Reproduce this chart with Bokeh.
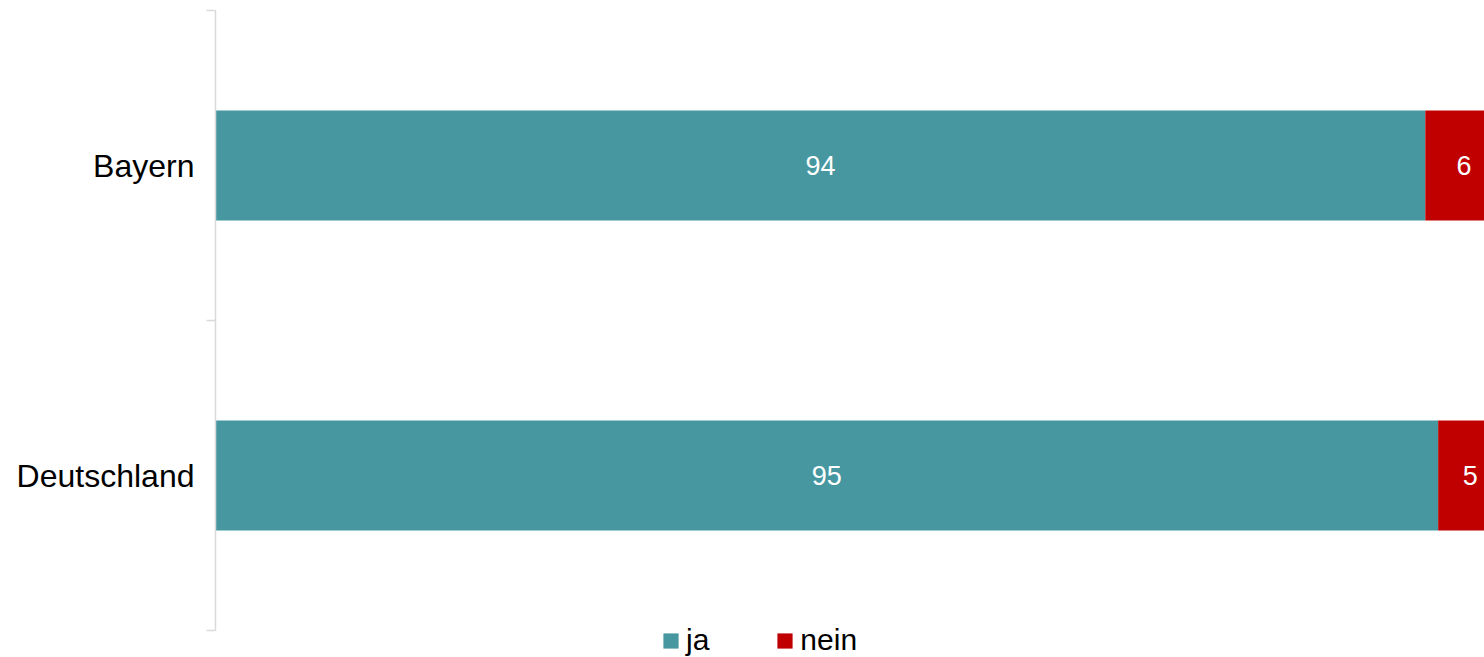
from bokeh.plotting import figure
from bokeh.models import ColumnDataSource, Range1d, FixedTicker, Legend, LegendItem
from bokeh.core.properties import value
from bokeh.embed import file_html
from bokeh.resources import INLINE

categories = ["Bayern", "Deutschland"]
ja = [94, 95]
nein = [6, 5]
series = ["ja", "nein"]
colors = ["#4697a0", "#c00000"]

n = len(categories)
ypos = [n - i - 0.5 for i in range(n)]

src = ColumnDataSource(dict(y=ypos, ja=ja, nein=nein,
                            ja_mid=[v / 2 for v in ja],
                            nein_mid=[a + b / 2 for a, b in zip(ja, nein)],
                            ja_lbl=[str(v) for v in ja],
                            nein_lbl=[str(v) for v in nein]))

FONT = "Liberation Sans"

p = figure(width=1484, height=657, output_backend="svg", toolbar_location=None,
           x_range=Range1d(0, 98.6), y_range=Range1d(-27 / 310, n),
           min_border_left=215, min_border_right=0, min_border_top=10, min_border_bottom=0)
p.outline_line_color = None
p.grid.visible = False
p.xaxis.visible = False

rs = p.hbar_stack(series, y="y", height=0.355, color=colors, source=src, line_color=None)

for mid, lbl in (("ja_mid", "ja_lbl"), ("nein_mid", "nein_lbl")):
    p.text(x=mid, y="y", text=lbl, source=src, text_color="white",
           text_align="center", text_baseline="middle",
           text_font=value(FONT), text_font_size="27px")

ax = p.yaxis[0]
ax.bounds = (0, n)
ax.ticker = FixedTicker(ticks=ypos, minor_ticks=list(range(n + 1)))
ax.major_label_overrides = {y: c for y, c in zip(ypos, categories)}
ax.major_tick_line_color = None
ax.major_tick_out = 0
ax.major_tick_in = 0
ax.minor_tick_line_color = "#d9d9d9"
ax.minor_tick_line_width = 1.5
ax.minor_tick_out = 9
ax.minor_tick_in = 0
ax.axis_line_color = "#d9d9d9"
ax.axis_line_width = 1.5
ax.major_label_standoff = 12
ax.major_label_text_font = FONT
ax.major_label_text_font_size = "32px"
ax.major_label_text_color = "black"

legend = Legend(items=[LegendItem(label=s, renderers=[r]) for s, r in zip(series, rs)],
                orientation="horizontal", location=(446, 0),
                glyph_width=19, glyph_height=19, label_standoff=6, spacing=66,
                padding=0, margin=0, background_fill_alpha=0, border_line_color=None,
                label_text_font=FONT, label_text_font_size="30px", label_text_color="black")
p.add_layout(legend, "center")

open("out.html", "w").write(file_html(p, INLINE))
